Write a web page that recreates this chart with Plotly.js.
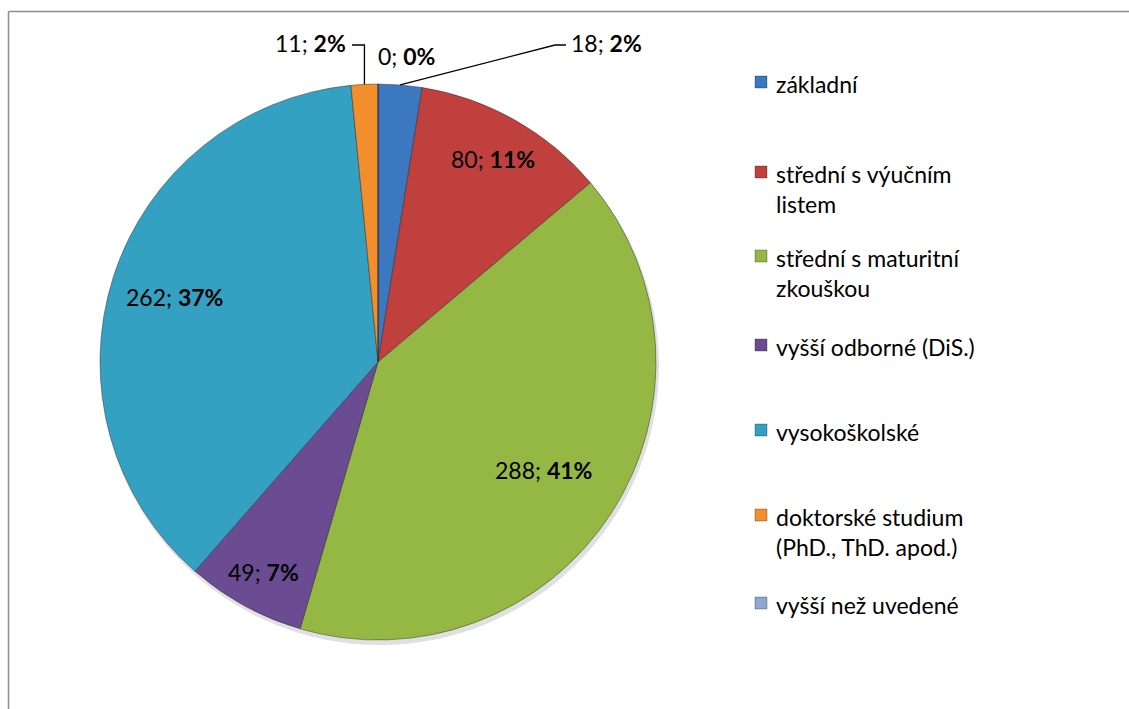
<!DOCTYPE html>
<html>
<head>
<meta charset="utf-8">
<script src="https://cdn.plot.ly/plotly-3.0.1.min.js"></script>
<style>html,body{margin:0;padding:0;background:#fff;}#chart{width:1129px;height:709px;}</style>
</head>
<body>
<div id="chart"></div>
<script>
// ---- data ----
const categories = ['základní', 'střední s výučním listem', 'střední s maturitní zkouškou', 'vyšší odborné (DiS.)', 'vysokoškolské', 'doktorské studium (PhD., ThD. apod.)', 'vyšší než uvedené'];
const legendLabels = ['základní', 'střední s výučním<br>listem', 'střední s maturitní<br>zkouškou', 'vyšší odborné (DiS.)', 'vysokoškolské', 'doktorské studium<br>(PhD., ThD. apod.)', 'vyšší než uvedené'];
const counts = [18, 80, 288, 49, 262, 11, 0];
const percentLabels = ['2%', '11%', '41%', '7%', '37%', '2%', '0%'];
const colors = ['#3C78C0', '#C0403E', '#95B844', '#6B4C93', '#35A1C2', '#F28E2B', '#8EA8CF'];

// ---- layout constants ----
const W = 1129, H = 709;
const CX = 378, CY = 362, R = 278;
const FONT = 'Lato, "Open Sans", sans-serif';
const px = x => x / W;
const py = y => 1 - y / H;

const total = counts.reduce((a, b) => a + b, 0);
// mid angle of each slice (deg, clockwise from 12 o'clock)
const mids = [];
let cum = 0;
counts.forEach(v => { mids.push((cum + v / 2) / total * 360); cum += v; });
const pointAt = (ang, r) => [CX + r * Math.sin(ang * Math.PI / 180), CY - r * Math.cos(ang * Math.PI / 180)];

const labelText = i => counts[i] + '; <b>' + percentLabels[i] + '</b>';

const annotations = [];
const shapes = [];

// inside labels (radius fraction per slice; null = outside label)
const insideFrac = [null, 0.84, 0.71, 0.86, 0.77, null, null];
insideFrac.forEach((f, i) => {
  if (f === null) return;
  const [x, y] = pointAt(mids[i], R * f);
  annotations.push({x: px(x), y: py(y), xref: 'paper', yref: 'paper', text: labelText(i), showarrow: false,
    xanchor: 'center', yanchor: 'middle', font: {family: FONT, size: 23, color: '#000'}});
});

// outside labels with leader lines
function leader(i, elbowY, endX, textX, anchor) {
  const [x0, y0] = pointAt(mids[i], R);
  const ex = (i === 0) ? 555 : x0;
  shapes.push({type: 'path', xref: 'paper', yref: 'paper',
    path: `M ${px(x0)} ${py(y0)} L ${px(ex)} ${py(elbowY)} L ${px(endX)} ${py(elbowY)}`,
    line: {color: '#000', width: 1.3}});
  annotations.push({x: px(textX), y: py(elbowY - 2), xref: 'paper', yref: 'paper', text: labelText(i), showarrow: false,
    xanchor: anchor, yanchor: 'middle', font: {family: FONT, size: 23, color: '#000'}});
}
leader(0, 45, 566, 569, 'left');
leader(5, 45, 352, 348, 'right');
// zero slice label
annotations.push({x: px(376), y: py(56), xref: 'paper', yref: 'paper', text: labelText(6), showarrow: false,
  xanchor: 'left', yanchor: 'middle', font: {family: FONT, size: 23, color: '#000'}});

// legend (custom, Excel-like spacing)
const legendY = [82, 172, 256, 345, 430, 515, 603];
legendLabels.forEach((lab, i) => {
  const y = legendY[i];
  shapes.push({type: 'rect', xref: 'paper', yref: 'paper', x0: px(755), x1: px(767), y0: py(y + 6), y1: py(y - 6),
    fillcolor: colors[i], line: {color: 'rgba(0,0,0,0.35)', width: 0.8}});
  annotations.push({x: px(774), y: py(y - 14), xref: 'paper', yref: 'paper', text: lab, showarrow: false,
    xanchor: 'left', yanchor: 'top', align: 'left', font: {family: FONT, size: 23, color: '#000'}});
});

// frame (partially visible chart border)
shapes.push({type: 'line', xref: 'paper', yref: 'paper', x0: px(8.5), x1: 1.02, y0: py(11.5), y1: py(11.5), line: {color: '#8c8c8c', width: 1.5}});
shapes.push({type: 'line', xref: 'paper', yref: 'paper', x0: px(8.5), x1: px(8.5), y0: py(11.5), y1: -0.02, line: {color: '#8c8c8c', width: 1.5}});

// soft shadow behind pie
shapes.push({type: 'circle', layer: 'below', xref: 'paper', yref: 'paper',
  x0: px(CX - R + 1), x1: px(CX + R + 3), y0: py(CY + R + 5), y1: py(CY - R + 3),
  fillcolor: 'rgba(0,0,0,0.12)', line: {width: 0}});

const trace = {
  type: 'pie',
  labels: categories,
  values: counts,
  sort: false,
  direction: 'clockwise',
  rotation: 0,
  textinfo: 'none',
  hoverinfo: 'label+value+percent',
  marker: {colors: colors, line: {color: 'rgba(40,40,40,0.45)', width: 1}},
  domain: {x: [px(CX - R), px(CX + R)], y: [py(CY + R), py(CY - R)]},
  showlegend: false
};

const layout = {
  width: W, height: H,
  margin: {l: 0, r: 0, t: 0, b: 0},
  paper_bgcolor: '#fff',
  showlegend: false,
  annotations: annotations,
  shapes: shapes,
  font: {family: FONT}
};

Plotly.newPlot('chart', [trace], layout, {displayModeBar: false, staticPlot: true});
</script>
</body>
</html>
